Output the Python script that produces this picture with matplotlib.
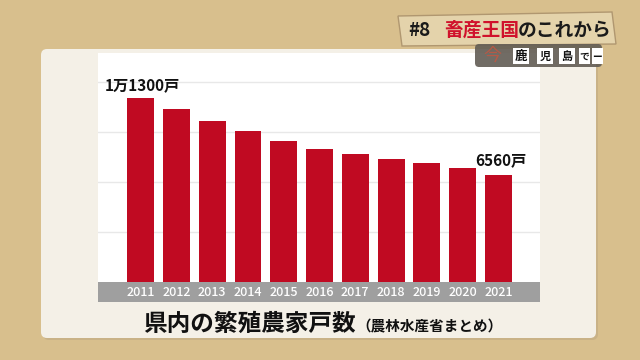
import matplotlib
matplotlib.use("Agg")
import matplotlib.pyplot as plt
import matplotlib.patches as mpatches
import numpy as np

plt.rcParams['font.family'] = ['Noto Sans CJK JP', 'DejaVu Sans']

# data
years = ['2011', '2012', '2013', '2014', '2015', '2016', '2017', '2018', '2019', '2020', '2021']
farms = [11300, 10660, 9900, 9300, 8670, 8160, 7870, 7550, 7340, 6990, 6560]
first_label = '1万1300戸'
last_label = '6560戸'
title = '県内の繁殖農家戸数'
source = '（農林水産省まとめ）'

W, H = 640, 360
fig = plt.figure(figsize=(6.4, 3.6), dpi=100)
fig.patch.set_facecolor('#d8bf8d')

# pixel overlay for the panel / decorations
bg = fig.add_axes([0, 0, 1, 1])
bg.set_xlim(0, W)
bg.set_ylim(H, 0)
bg.axis('off')

bg.add_patch(mpatches.FancyBboxPatch((43, 51), 555, 289, boxstyle="round,pad=0,rounding_size=6",
                                     fc='#c9b287', ec='none', zorder=1))
bg.add_patch(mpatches.FancyBboxPatch((41, 49), 555, 289, boxstyle="round,pad=0,rounding_size=6",
                                     fc='#f4f0e7', ec='none', zorder=2))
bg.add_patch(mpatches.Rectangle((98, 53), 442, 229, fc='white', ec='none', zorder=3))

# badge strip top right
bg.add_patch(mpatches.Polygon([(398, 16), (612, 12), (616, 44), (402, 46)],
                              closed=True, fc='#e4d3ab', ec='#b09770', lw=1.0, zorder=3))
bg.text(408, 30, '#8', fontsize=13.5, fontweight='bold', color='#1a1a1a', va='center', ha='left', zorder=5)
bg.text(444, 30, '畜産王国', fontsize=13.5, fontweight='bold', color='#d0122c', va='center', ha='left', zorder=5)
bg.text(518, 30, 'のこれから', fontsize=13.5, fontweight='bold', color='#1a1a1a', va='center', ha='left', zorder=5)

# logo box
bg.add_patch(mpatches.FancyBboxPatch((475, 44), 127, 23, boxstyle="round,pad=0,rounding_size=4",
                                     fc='#625c54', ec='none', alpha=0.9, zorder=4))
bg.text(492, 56, '今', fontsize=13, color='#c8553f', alpha=0.8, va='center', ha='center', zorder=5)
for cx, ch, fs in [(521, '鹿', 9), (545, '児', 8), (567, '島', 8), (584, 'で', 7), (597, 'ー', 7)]:
    bw = 16 if ch in '鹿児島' else 11
    bg.add_patch(mpatches.Rectangle((cx - bw / 2, 48), bw, 16, fc='white', ec='none', zorder=5))
    bg.text(cx, 56.5, ch, fontsize=fs, fontweight='bold', color='#111111', va='center', ha='center', zorder=6)

# title
bg.text(143, 324, title, fontsize=17, fontweight='bold', color='#111111', va='center', ha='left', zorder=5)
bg.text(356, 326, source, fontsize=10.5, fontweight='bold', color='#111111', va='center', ha='left', zorder=5)

# bar chart
ax = fig.add_axes([98 / W, 1 - 282 / H, 442 / W, 227 / H])
ax.patch.set_alpha(0)
x = np.arange(len(years))
ax.bar(x, farms, width=0.75, color='#c00a22', zorder=3)
ax.set_xlim(-1.19, 11.16)
ax.set_ylim(0, 13960)
ax.set_yticks(np.arange(1, 5) * 3075)
ax.grid(axis='y', color='#e8e8e8', lw=1)
ax.tick_params(left=False, bottom=False, labelleft=False, labelbottom=False)
for s in ax.spines.values():
    s.set_visible(False)

ax.annotate(first_label, (x[0], farms[0]), xytext=(-26, 4), textcoords='offset points',
            fontsize=11, fontweight='bold', color='#111111', ha='left', va='bottom')
ax.annotate(last_label, (x[-1], farms[-1]), xytext=(2, 5), textcoords='offset points',
            fontsize=11, fontweight='bold', color='#111111', ha='center', va='bottom')

# gray year band
band = fig.add_axes([98 / W, 1 - 302 / H, 442 / W, 20 / H])
band.set_facecolor('#9f9f9f')
band.set_xlim(-1.19, 11.16)
band.set_ylim(0, 1)
band.tick_params(left=False, bottom=False, labelleft=False, labelbottom=False)
for s in band.spines.values():
    s.set_visible(False)
for i, yr in enumerate(years):
    band.text(x[i], 0.48, yr, fontsize=9, fontweight='medium', color='white', ha='center', va='center')

fig.savefig('out.png', dpi=100)
